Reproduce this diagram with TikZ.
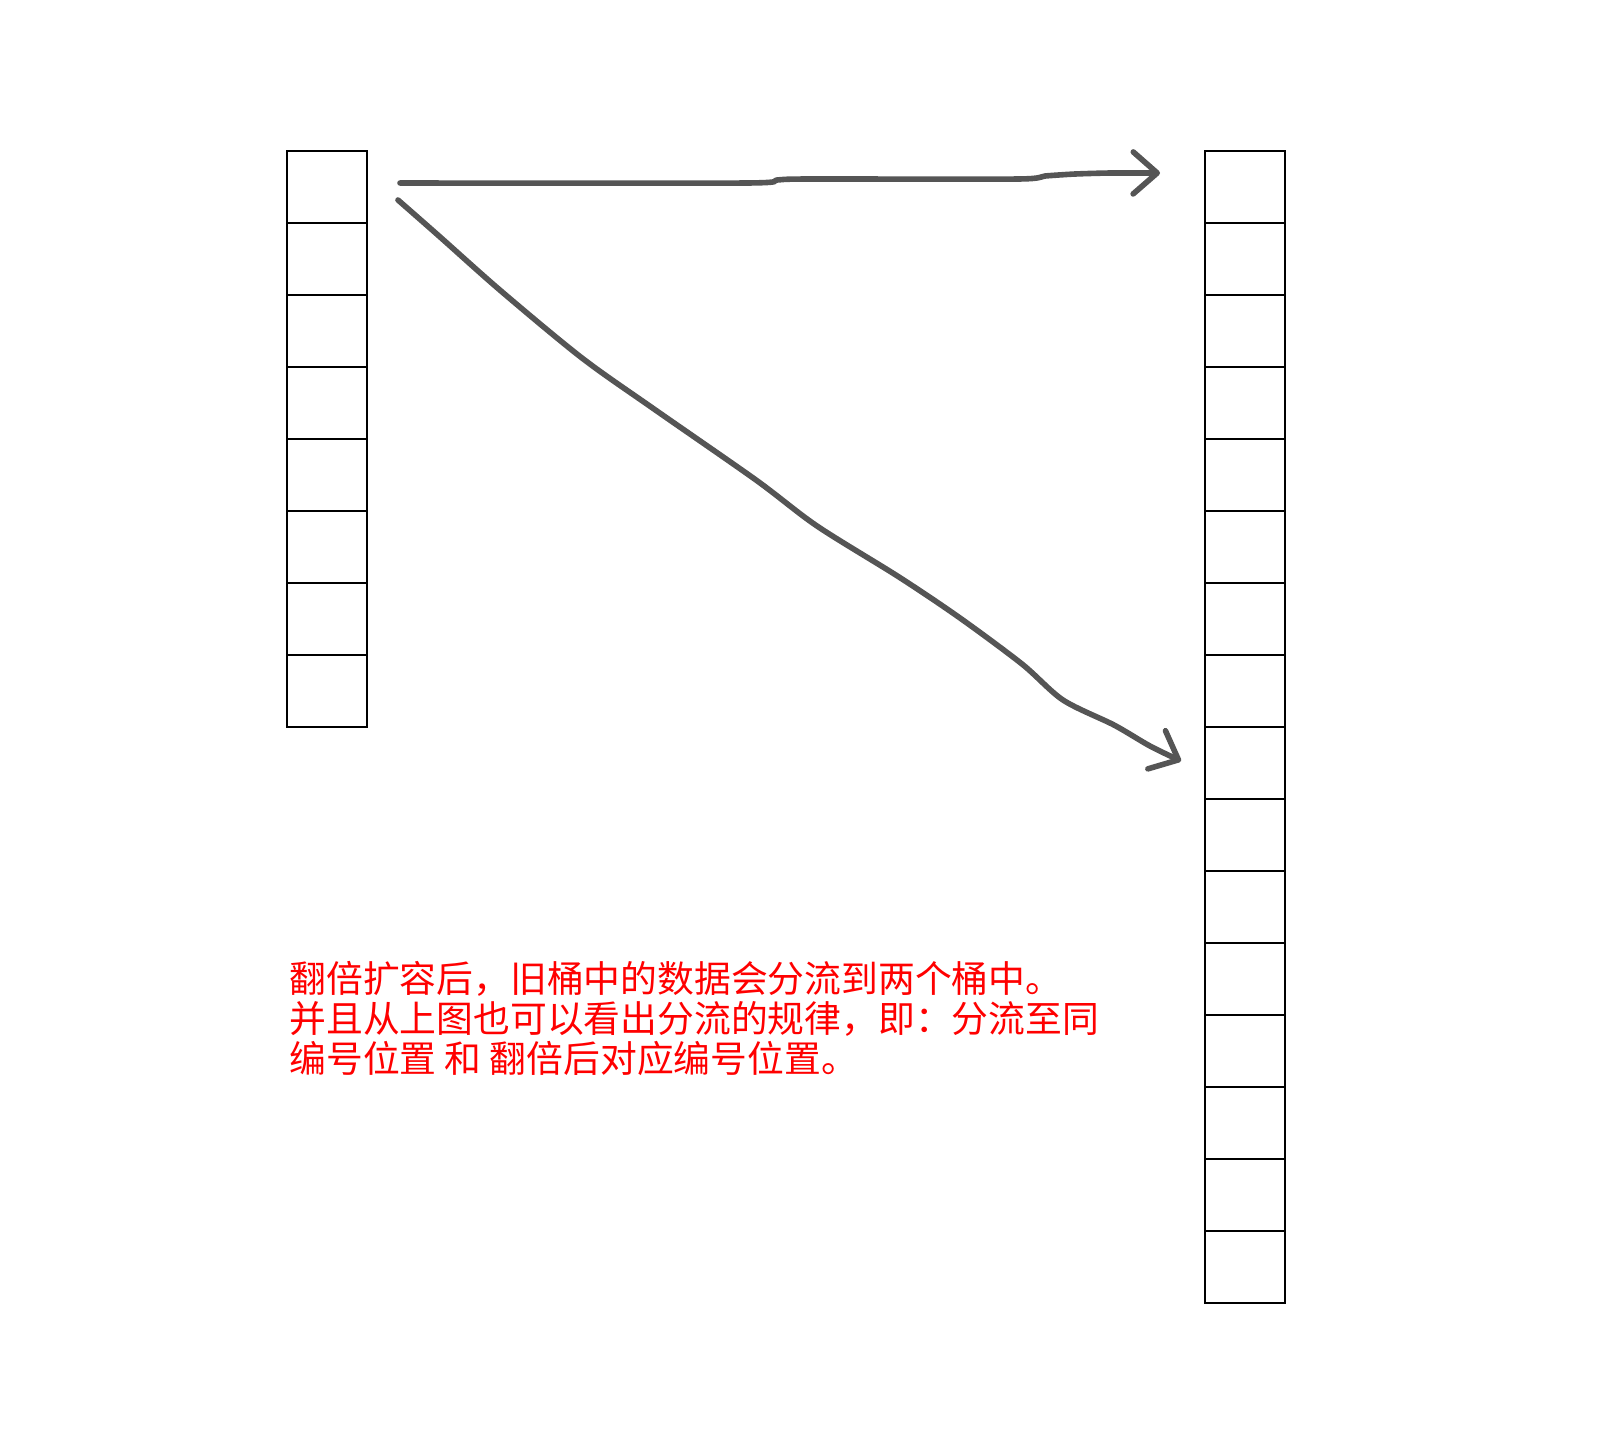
\documentclass[tikz,border=0pt]{standalone}
\usepackage{fontspec}
\newfontfamily\cjk{Noto Sans CJK SC}
\usetikzlibrary{arrows.meta}
\definecolor{arrowgray}{HTML}{555555}
\definecolor{notered}{HTML}{FF0000}
\begin{document}
\begin{tikzpicture}[x=0.5pt,y=-0.5pt,
  cell/.style={draw=black,line width=1pt,minimum width=40pt,minimum height=36pt,inner sep=0pt,outer sep=0pt},
  handarrow/.style={draw=arrowgray,line width=2.8pt,line cap=round,line join=round,
    -{Straight Barb[length=12pt,width=21pt,line cap=round,line join=round]}},
  note/.style={font=\cjk\fontsize{18.4}{19.6}\selectfont,text=notered,inner sep=0pt,anchor=base west}]
\useasboundingbox (0,0) rectangle (1602,1448);
\foreach \i in {1,...,8}{\node[cell] (L\i) at (327,115+72*\i) {};}
\foreach \i in {1,...,16}{\node[cell] (R\i) at (1245,115+72*\i) {};}
\coordinate (a1s) at (400,183);
\coordinate (a1e) at (1160,173);
\coordinate (a2s) at (398,200);
\coordinate (a2e) at (1181,761);
\draw[handarrow] plot[smooth,tension=0.4] coordinates {(a1s) (746,183) (777,180) (807,179) (1018,179) (1045,176) (1075,174) (1110,173) (a1e)};
\draw[handarrow] plot[smooth,tension=0.5] coordinates {(a2s) (439,236) (501,291) (582,358) (654,409) (756,480) (817,526) (899,577) (960,618) (1022,664) (1063,700) (1114,725) (1150,746) (a2e)};
\node[note] (t1) at (289,992) {翻倍扩容后，旧桶中的数据会分流到两个桶中。};
\node[note] (t2) at (289,1032) {并且从上图也可以看出分流的规律，即：分流至同};
\node[note] (t3) at (289,1072) {编号位置 和 翻倍后对应编号位置。};
\end{tikzpicture}
\end{document}
